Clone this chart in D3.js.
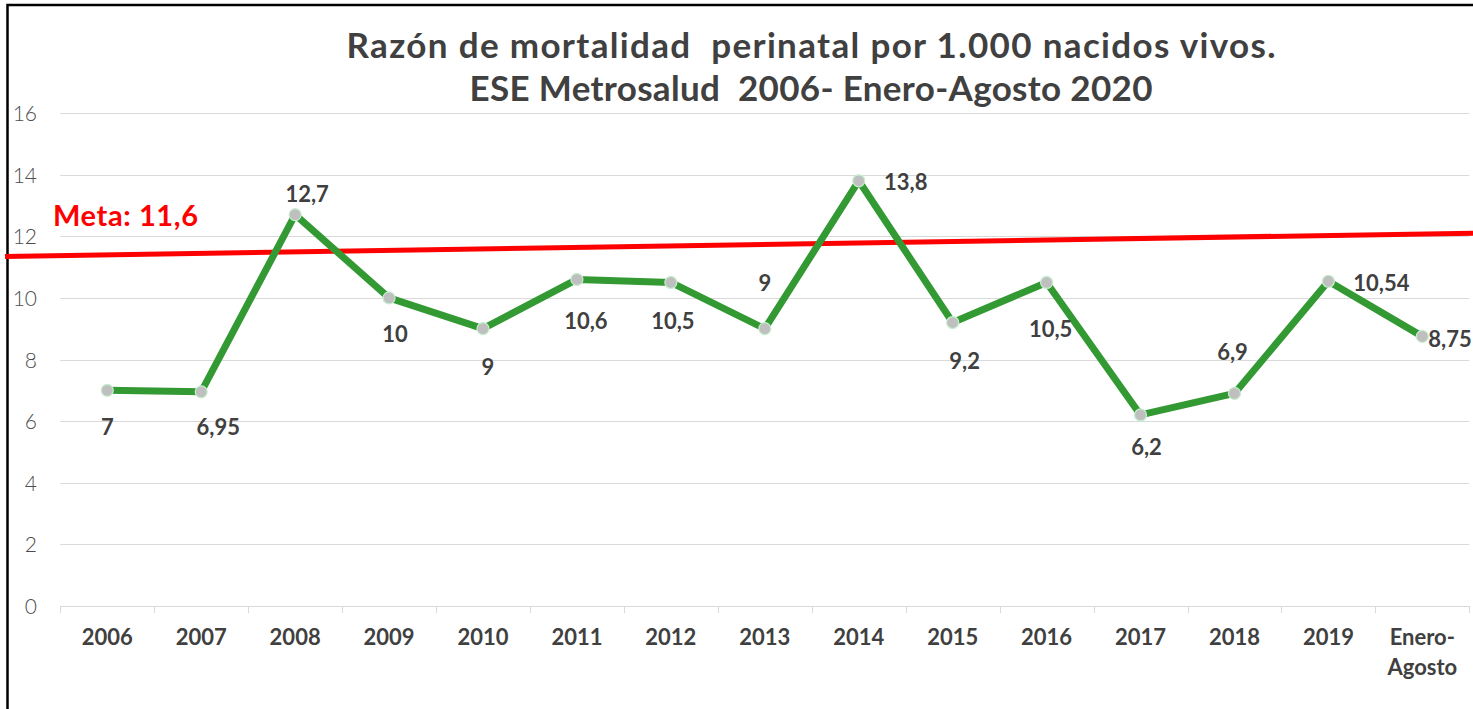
<!DOCTYPE html>
<html>
<head>
<meta charset="utf-8">
<script src="https://cdn.jsdelivr.net/npm/d3@7"></script>
<style>
  body { margin: 0; background: #fff; }
  svg { display: block; font-family: 'Lato', 'Noto Sans', sans-serif; }
</style>
</head>
<body>
<div class="chart"></div>
<script>
// data
var years = ['2006', '2007', '2008', '2009', '2010', '2011', '2012', '2013',
             '2014', '2015', '2016', '2017', '2018', '2019', 'Enero-Agosto'];
var values = [7, 6.95, 12.7, 10, 9, 10.6, 10.5, 9, 13.8, 9.2, 10.5, 6.2, 6.9, 10.54, 8.75];
var labels = ['7', '6,95', '12,7', '10', '9', '10,6', '10,5', '9', '13,8', '9,2',
              '10,5', '6,2', '6,9', '10,54', '8,75'];
var yTicks = [0, 2, 4, 6, 8, 10, 12, 14, 16];
var metaValue = '11,6';
var metaEnds = [11.34, 12.1]; // the hand drawn goal line is slightly tilted

// where each data label sits relative to its point (dx, dy of baseline)
var labelOffsets = [[0, 45], [17, 43], [12, -13], [6, 44], [5, 46], [9, 50], [2, 47],
                    [0, -38], [47, 9], [12, 46], [4, 55], [6, 40], [-2, -33], [53, 10], [6, 11]];

var W = 1473, H = 709;
var margin = {top: 113, left: 60.3, right: 3.7, bottom: 103};
var width = W - margin.left - margin.right;
var height = H - margin.top - margin.bottom;

var svg = d3.select('div.chart').append('svg')
    .attr('width', W)
    .attr('height', H);

var x = d3.scaleBand().domain(years).range([margin.left, margin.left + width]);
var y = d3.scaleLinear().domain([0, 16]).range([margin.top + height, margin.top]);

// frame
svg.append('rect')
  .attr('x', 7.5).attr('y', 5)
  .attr('width', W + 20).attr('height', H + 20)
  .attr('fill', 'none')
  .attr('stroke', '#000')
  .attr('stroke-width', 2.5);

// title
var title = svg.append('text')
  .attr('text-anchor', 'middle')
  .attr('fill', '#404040')
  .attr('font-weight', 700)
  .attr('font-size', 35);
title.append('tspan').attr('x', 811).attr('y', 58)
  .attr('textLength', 929).attr('lengthAdjust', 'spacing')
  .text('Razón de mortalidad\u00a0 perinatal por 1.000 nacidos vivos.');
title.append('tspan').attr('x', 811).attr('y', 101)
  .attr('textLength', 683).attr('lengthAdjust', 'spacing')
  .text('ESE Metrosalud\u00a0 2006- Enero-Agosto 2020');

// gridlines
svg.append('g')
  .selectAll('line')
  .data(yTicks)
  .enter().append('line')
  .attr('x1', margin.left).attr('x2', margin.left + width)
  .attr('y1', function (d) { return Math.round(y(d)) + 0.5; })
  .attr('y2', function (d) { return Math.round(y(d)) + 0.5; })
  .attr('stroke', '#d9d9d9')
  .attr('stroke-width', 1);

// y axis labels
var yAxis = d3.axisLeft(y).tickValues(yTicks).tickSize(0).tickPadding(0);
var yAxis_g = svg.append('g')
  .attr('transform', 'translate(37,0)')
  .call(yAxis);
yAxis_g.select('.domain').remove();
yAxis_g.selectAll('text')
  .attr('font-family', 'Lato, sans-serif')
  .attr('font-weight', 300)
  .attr('font-size', 21)
  .attr('fill', '#4d4d4d')
  .attr('dy', '0.36em');

// x axis
var xAxis = d3.axisBottom(x).tickSize(0).tickPadding(0);
var xAxis_g = svg.append('g')
  .attr('transform', 'translate(0,' + (margin.top + height) + ')')
  .call(xAxis);
xAxis_g.select('.domain').remove();
xAxis_g.selectAll('.tick text').remove();
var bounds = x.domain().map(function (d) { return x(d); }).concat([x.range()[1]]);
xAxis_g.selectAll('line.sep')
  .data(bounds)
  .enter().append('line')
  .attr('class', 'sep')
  .attr('x1', function (d) { return Math.round(d) + 0.5; })
  .attr('x2', function (d) { return Math.round(d) + 0.5; })
  .attr('y1', 0).attr('y2', 7)
  .attr('stroke', '#d9d9d9');
var xText = xAxis_g.selectAll('text.cat')
  .data(years)
  .enter().append('text')
  .attr('class', 'cat')
  .attr('text-anchor', 'middle')
  .attr('font-family', 'Lato, sans-serif')
  .attr('font-weight', 700)
  .attr('font-size', 22)
  .attr('fill', '#404040')
  .attr('y', 39);
xText.each(function (d) {
  var t = d3.select(this);
  var parts = d.indexOf('-') > 0 ? [d.split('-')[0] + '-', d.split('-')[1]] : [d];
  parts.forEach(function (p, i) {
    t.append('tspan')
      .attr('x', x(d) + x.bandwidth() / 2)
      .attr('dy', i === 0 ? 0 : 30)
      .text(p);
  });
});

// goal line
svg.append('line')
  .attr('x1', 5).attr('x2', W)
  .attr('y1', y(metaEnds[0])).attr('y2', y(metaEnds[1]))
  .attr('stroke', '#ff0000')
  .attr('stroke-width', 5);

svg.append('text')
  .attr('x', 53).attr('y', 226)
  .attr('fill', '#ff0000')
  .attr('font-weight', 700)
  .attr('font-size', 29)
  .attr('letter-spacing', 0.6)
  .text('Meta: ' + metaValue);

// series line
var line = d3.line()
  .x(function (d, i) { return x(years[i]) + x.bandwidth() / 2; })
  .y(function (d) { return y(d); });

svg.append('path')
  .datum(values)
  .attr('d', line)
  .attr('fill', 'none')
  .attr('stroke', '#339933')
  .attr('stroke-width', 7)
  .attr('stroke-linejoin', 'round');

svg.selectAll('circle.pt')
  .data(values)
  .enter().append('circle')
  .attr('class', 'pt')
  .attr('cx', function (d, i) { return x(years[i]) + x.bandwidth() / 2; })
  .attr('cy', function (d) { return y(d); })
  .attr('r', 6)
  .attr('fill', '#bfbfbf')
  .attr('stroke', '#c6efce')
  .attr('stroke-width', 1.2);

// data labels
svg.selectAll('text.lbl')
  .data(values)
  .enter().append('text')
  .attr('class', 'lbl')
  .attr('text-anchor', function (d, i) { return i === values.length - 1 ? 'start' : 'middle'; })
  .attr('x', function (d, i) { return x(years[i]) + x.bandwidth() / 2 + labelOffsets[i][0]; })
  .attr('y', function (d, i) { return y(d) + labelOffsets[i][1]; })
  .attr('font-weight', 700)
  .attr('font-size', 22)
  .attr('fill', '#404040')
  .text(function (d, i) { return labels[i]; });
</script>
</body>
</html>
